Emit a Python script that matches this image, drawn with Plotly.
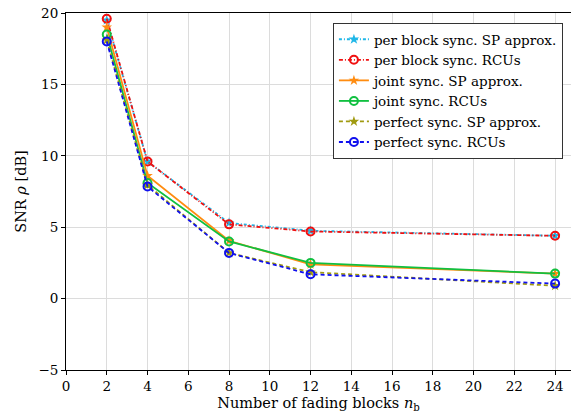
import plotly.graph_objects as go

n_blocks = [2, 4, 8, 12, 24]
per_block_sp = [19.5, 9.6, 5.3, 4.75, 4.4]
per_block_rcu = [19.6, 9.6, 5.2, 4.7, 4.4]
joint_sp = [19.0, 8.6, 4.05, 2.4, 1.75]
joint_rcu = [18.5, 8.1, 4.0, 2.5, 1.75]
perfect_sp = [18.1, 7.95, 3.2, 1.85, 0.9]
perfect_rcu = [18.0, 7.85, 3.2, 1.7, 1.05]

x_ticks = list(range(0, 25, 2))
y_ticks = [-5, 0, 5, 10, 15, 20]

FONT = "DejaVu Serif, Liberation Serif, serif"

series = [
    ("per block sync. SP approx.", per_block_sp, "#1fb7e8", "3px,2px,1px,2px", "star", True),
    ("per block sync. RCUs", per_block_rcu, "#f01010", "4px,2px,1px,2px", "circle-open", False),
    ("joint sync. SP approx.", joint_sp, "#ff8c10", "solid", "star", True),
    ("joint sync. RCUs", joint_rcu, "#10c040", "solid", "circle-open", False),
    ("perfect sync. SP approx.", perfect_sp, "#a09a10", "4px,3px", "star", True),
    ("perfect sync. RCUs", perfect_rcu, "#1010ee", "4px,3px", "circle-open", False),
]

fig = go.Figure()
for name, vals, color, dash, sym, filled in series:
    fig.add_trace(go.Scatter(
        x=n_blocks, y=vals, name=name, mode="lines+markers",
        line=dict(color=color, width=1.8, dash=dash),
        marker=dict(symbol=sym, size=8, color=color,
                    line=dict(width=2, color=color) if not filled else dict(width=0)),
    ))

fig.update_layout(
    width=571, height=415,
    margin=dict(l=66, r=0, t=13, b=45),
    plot_bgcolor="white", paper_bgcolor="white",
    font=dict(family=FONT, size=14, color="black"),
    legend=dict(
        x=0.984, y=0.972, xanchor="right", yanchor="top",
        bgcolor="white", bordercolor="#333", borderwidth=1,
        font=dict(family=FONT, size=13.5), tracegroupgap=0,
        itemwidth=30,
    ),
    xaxis=dict(
        range=[0, 24.78], tickvals=x_ticks, showgrid=True, gridcolor="#dcdcdc",
        gridwidth=1, showline=True, linecolor="black", linewidth=1, mirror=True,
        ticks="outside", ticklen=4, tickcolor="black", zeroline=False,
        tickfont=dict(size=13.5),
        title=dict(text="Number of fading blocks <i>n</i><sub>b</sub>", standoff=4,
                   font=dict(size=14.5)),
    ),
    yaxis=dict(
        range=[-5, 20], tickvals=y_ticks, ticktext=["\u22125", "0", "5", "10", "15", "20"],
        showgrid=True, gridcolor="#dcdcdc", gridwidth=1,
        showline=True, linecolor="black", linewidth=1,
        ticks="outside", ticklen=4, tickcolor="black", zeroline=False,
        tickfont=dict(size=13.5),
        title=dict(text="SNR <i>\u03c1</i> [dB]", standoff=8, font=dict(size=14.5)),
    ),
)

fig.write_html("out.html", config={"displayModeBar": False},
               post_script="document.body.style.margin='0';")
